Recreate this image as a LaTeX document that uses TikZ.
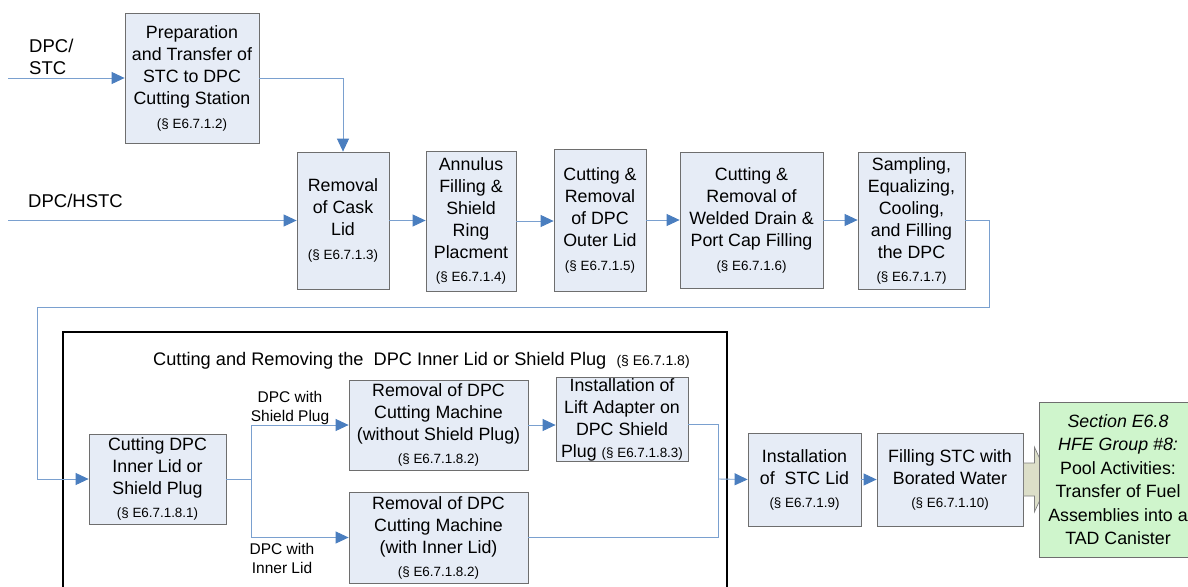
\documentclass[tikz,border=0pt]{standalone}
\usepackage{fontspec}
\setmainfont{Liberation Sans}
\usetikzlibrary{arrows.meta,calc}
\definecolor{boxfill}{HTML}{E6ECF6}
\definecolor{boxdraw}{HTML}{6E6E6E}
\definecolor{linecol}{HTML}{7AA0CF}
\definecolor{arrowcol}{HTML}{4A7EBF}
\definecolor{greenfill}{HTML}{CFF5CC}
\definecolor{bigarrow}{HTML}{DCDEC8}
\newcommand{\SecNo}[1]{{\fontsize{13.4}{16}\selectfont(\S\ E#1)}}
\tikzset{
  stepbox/.style={draw=boxdraw, fill=boxfill, line width=0.8pt, align=center, inner sep=1pt,
    font=\fontsize{17.8}{22}\selectfont},
  flow/.style={draw=linecol, line width=0.9pt, -{Triangle[length=13pt,width=12pt,color=arrowcol]}},
  plain/.style={draw=linecol, line width=0.9pt},
  lbl/.style={align=center, inner sep=0pt, font=\fontsize{15.5}{19}\selectfont},
}
\begin{document}
\begin{tikzpicture}[x=1pt,y=-1pt]
\useasboundingbox (0,0) rectangle (1188,586);
\clip (0,0) rectangle (1188,586);
\fill[white] (0,0) rectangle (1188,586);

% top row
\node[stepbox, minimum width=134pt, minimum height=130pt] (prep) at (192,78)
  {Preparation\\and Transfer of\\STC to DPC\\Cutting Station\\[2pt]\SecNo{6.7.1.2}};
\node[stepbox, minimum width=92pt, minimum height=137pt] (cask) at (343,220.5)
  {Removal\\of Cask\\Lid\\[2pt]\SecNo{6.7.1.3}};
\node[stepbox, minimum width=90pt, minimum height=140pt] (annulus) at (471,221)
  {Annulus\\Filling \&\\Shield\\Ring\\Placment\\[1pt]\SecNo{6.7.1.4}};
\node[stepbox, minimum width=92pt, minimum height=142pt] (outer) at (600,220)
  {Cutting \&\\Removal\\of DPC\\Outer Lid\\[2pt]\SecNo{6.7.1.5}};
\node[stepbox, minimum width=143pt, minimum height=136pt] (drain) at (751.5,220)
  {Cutting \&\\Removal of\\Welded Drain \&\\Port Cap Filling\\[2pt]\SecNo{6.7.1.6}};
\node[stepbox, minimum width=107pt, minimum height=137pt] (sampling) at (911.5,220.5)
  {Sampling,\\Equalizing,\\Cooling,\\and Filling\\the DPC\\[1pt]\SecNo{6.7.1.7}};

\node[lbl, anchor=west, align=left, font=\fontsize{18.5}{22}\selectfont] (lstc) at (29,57) {DPC/\\STC};
\node[lbl, anchor=base west, font=\fontsize{18.5}{22}\selectfont] (lhstc) at (28,207) {DPC/HSTC};

\coordinate (in1) at (8,78);
\coordinate (in2) at (8,220.5);
\draw[flow] (in1) -- (prep.west);
\draw[flow] (prep.east) -| (cask.north);
\draw[flow] (in2) -- (cask.west);
\draw[flow] (cask.east) -- (cask.east -| annulus.west);
\draw[flow] (annulus.east) -- (annulus.east -| outer.west);
\draw[flow] (outer.east) -- (outer.east -| drain.west);
\draw[flow] (drain.east) -- (drain.east -| sampling.west);

% frame
\draw[line width=2pt] (63,600) -- (63,332) -- (727,332) -- (727,600);
\node[anchor=base west, inner sep=0pt, font=\fontsize{18.2}{21}\selectfont] (title) at (153,365)
  {Cutting and Removing the\ \ DPC Inner Lid or Shield Plug\ \ {\fontsize{14}{16}\selectfont(\S\ E6.7.1.8)}};

% bottom row
\node[stepbox, minimum width=137pt, minimum height=90pt] (cutinner) at (157.5,479)
  {Cutting DPC\\Inner Lid or\\Shield Plug\\[1pt]\SecNo{6.7.1.8.1}};
\node[stepbox, minimum width=179pt, minimum height=90pt] (remA) at (438.5,425)
  {Removal of DPC\\Cutting Machine\\(without Shield Plug)\\[1pt]\SecNo{6.7.1.8.2}};
\node[stepbox, minimum width=179pt, minimum height=91pt] (remB) at (438.5,537.5)
  {Removal of DPC\\Cutting Machine\\(with Inner Lid)\\[1pt]\SecNo{6.7.1.8.2}};
\node[stepbox, minimum width=132pt, minimum height=79pt] (lift) at (622,419.5)
  {Installation of\\Lift Adapter on\\DPC Shield\\Plug \SecNo{6.7.1.8.3}};
\node[stepbox, minimum width=113pt, minimum height=93pt] (stclid) at (804.5,479.5)
  {Installation\\of\ \ STC Lid\\[1pt]\SecNo{6.7.1.9}};
\node[stepbox, minimum width=146pt, minimum height=93pt] (filling) at (950,479.5)
  {Filling STC with\\Borated Water\\[1pt]\SecNo{6.7.1.10}};

\node[lbl] (lsp) at (290,408) {DPC with\\Shield Plug};
\node[lbl] (lil) at (282,558) {DPC with\\Inner Lid};

\coordinate (l1) at (989,307);
\coordinate (l2) at (37,307);
\coordinate (br) at (251,479);
\coordinate (mg) at (718,479);
\draw[plain] (sampling.east) -| (l1) -- (l2);
\draw[flow] (l2) |- (cutinner.west);
\draw[plain] (cutinner.east) -- (br);
\draw[flow] (br) |- (remA.west);
\draw[flow] (br) |- (remB.west);
\draw[flow] (remA.east) -- (remA.east -| lift.west);
\draw[plain] ([yshift=-4.5pt]lift.east) -| (mg);
\draw[plain] (remB.east) -| (mg);
\draw[flow] (mg) -- (stclid.west);
\draw[flow] (stclid.east) -- (stclid.east -| filling.west);

% block arrow to next section
\draw[draw=gray, fill=bigarrow, line width=0.7pt]
  ($(filling.east)+(0,-16.5)$) -- ++(11,0) -- ++(0,-16) -- ($(filling.east)+(26,0)$)
  -- ($(filling.east)+(11,32.5)$) -- ++(0,-16) -- ($(filling.east)+(0,16.5)$) -- cycle;

\node[draw=boxdraw, fill=greenfill, line width=0.8pt, minimum width=158pt, minimum height=155pt,
  align=center, inner sep=1pt, font=\fontsize{17.8}{23.5}\selectfont] (next) at (1118,479.5)
  {\textit{Section E6.8}\\\textit{HFE Group \#8:}\\Pool Activities:\\Transfer of Fuel\\Assemblies into a\\TAD Canister};
\end{tikzpicture}
\end{document}
